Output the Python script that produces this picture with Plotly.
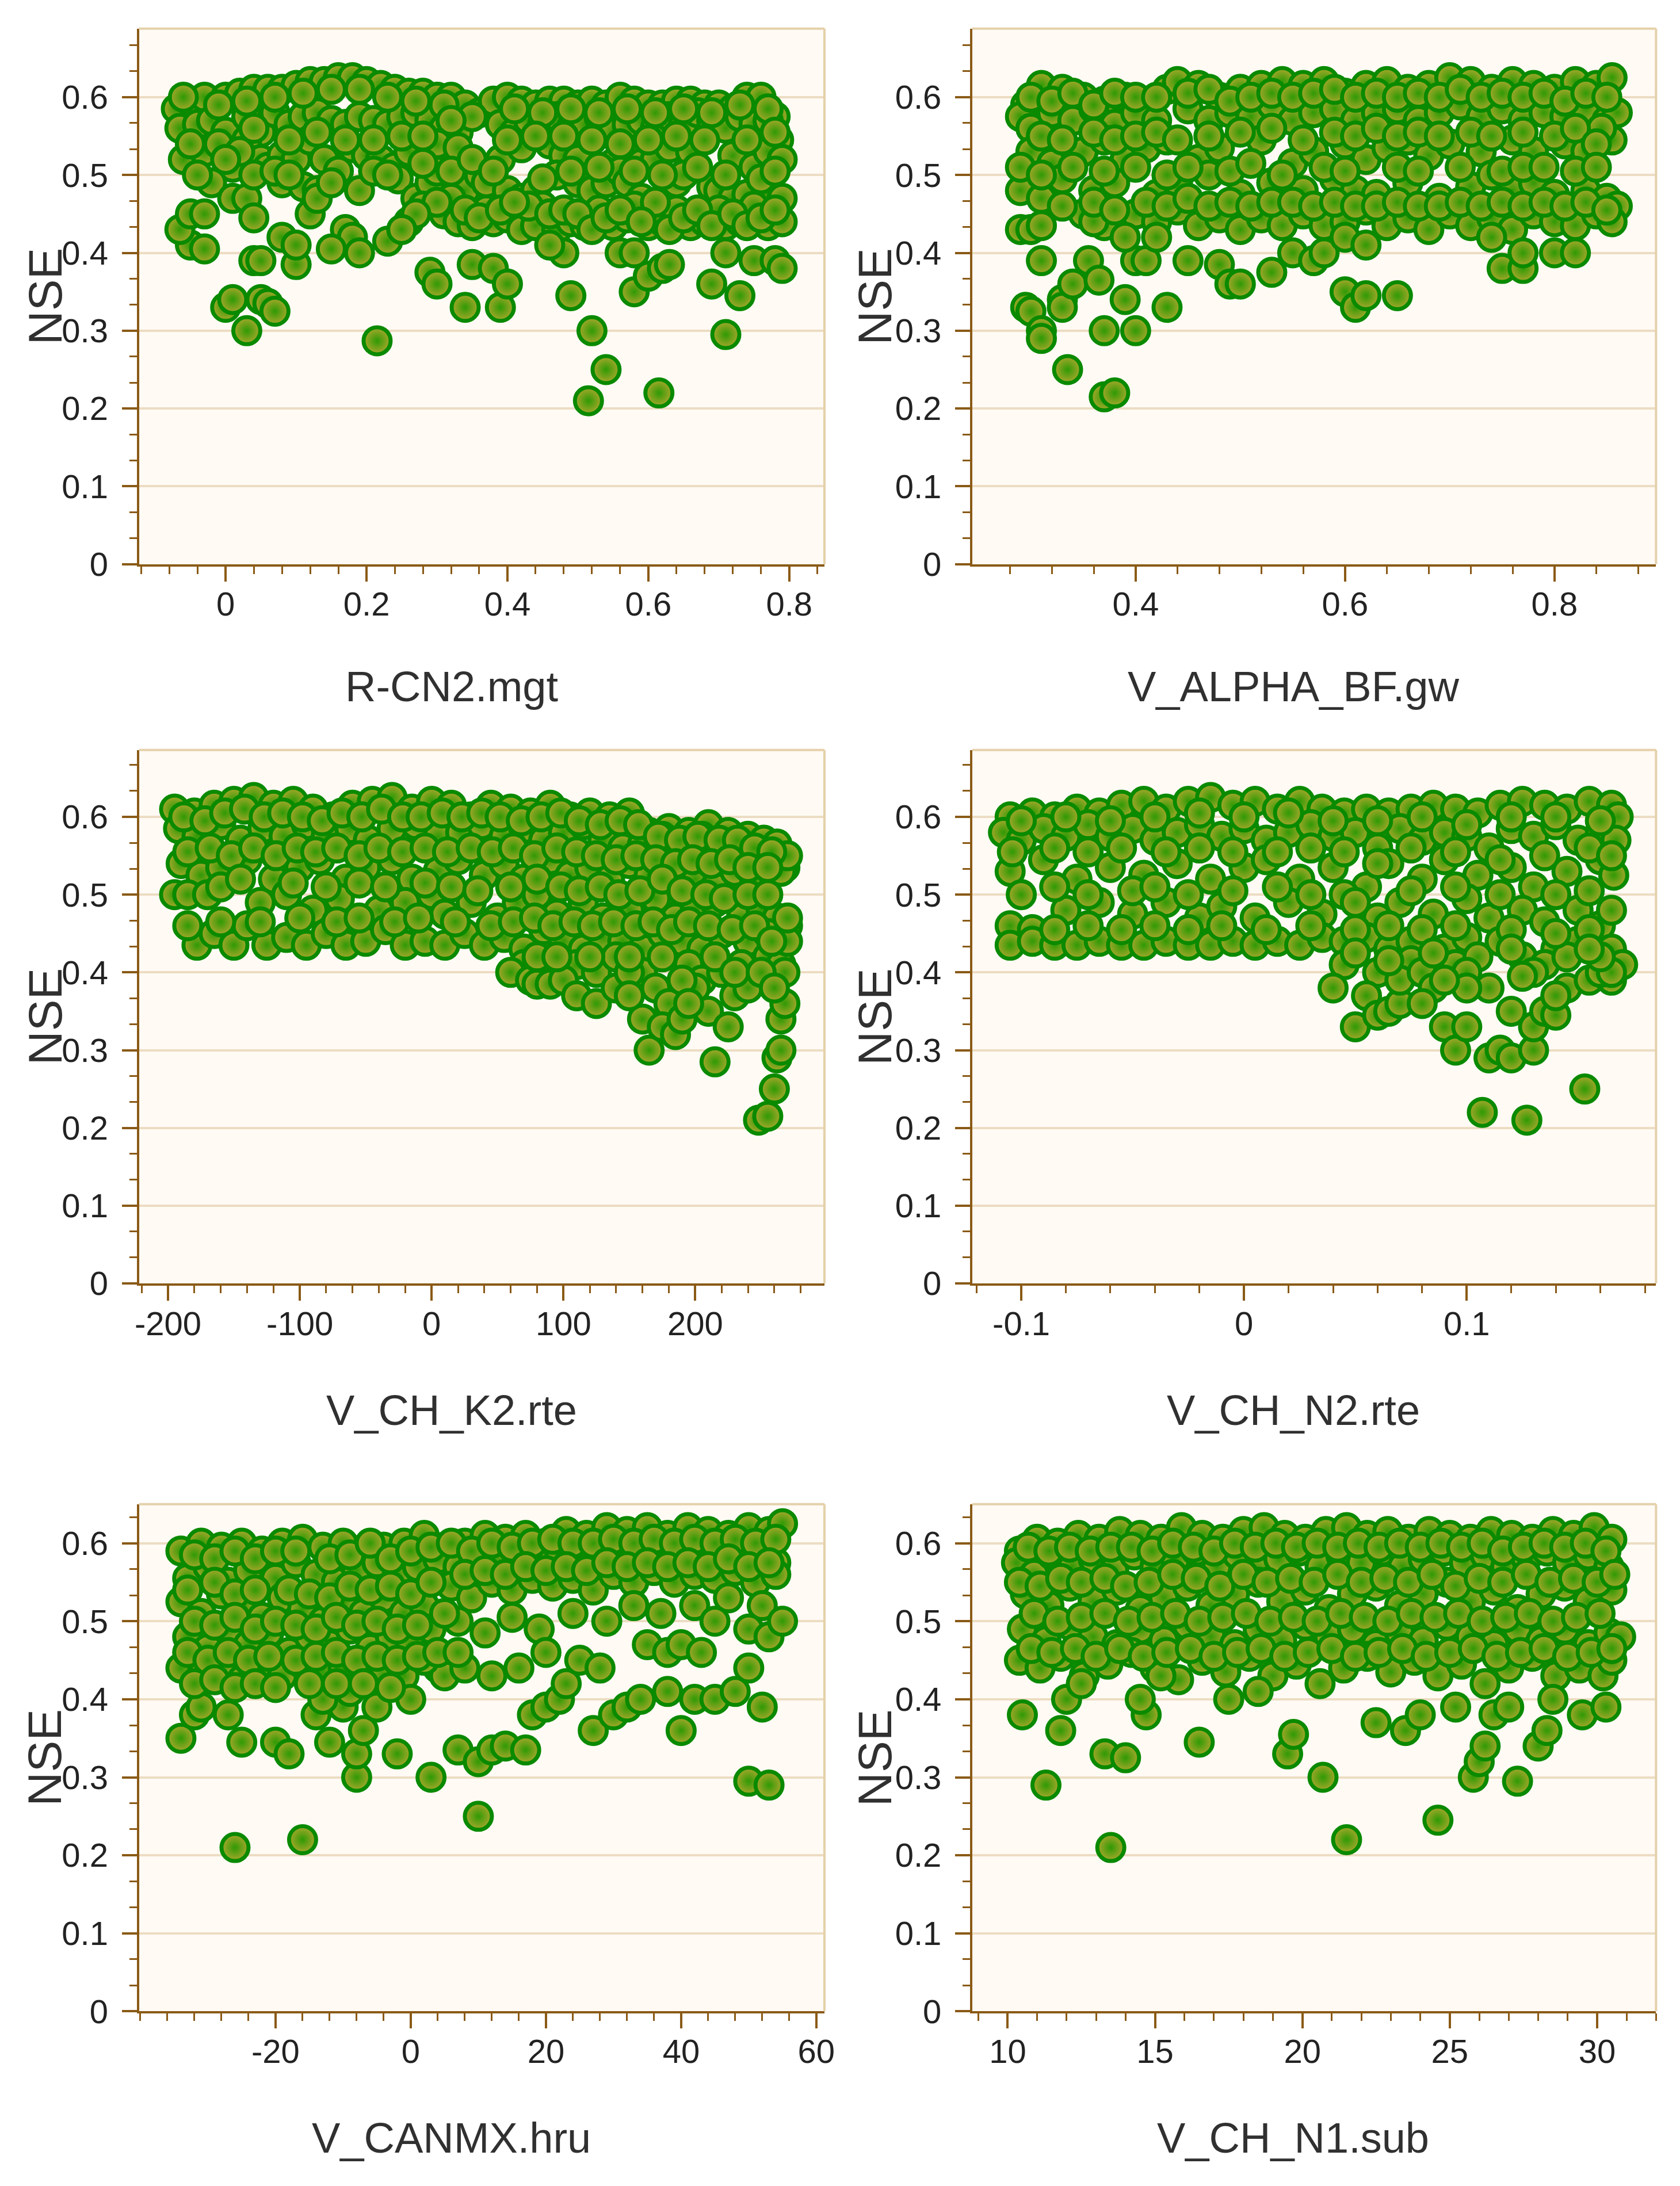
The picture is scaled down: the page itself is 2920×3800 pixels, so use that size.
import plotly.graph_objects as go
from plotly.subplots import make_subplots

# NSE against sampled parameter value, six panels

titles = ["R-CN2.mgt", "V_ALPHA_BF.gw", "V_CH_K2.rte", "V_CH_N2.rte", "V_CANMX.hru", "V_CH_N1.sub"]

cn2_points = [
    # top band
    (-0.07, 0.585), (-0.05, 0.595), (-0.03, 0.60), (0.0, 0.60), (0.02, 0.605), (0.04, 0.61), (0.06, 0.61),
    (0.08, 0.61), (0.10, 0.615), (0.12, 0.62), (0.14, 0.62), (0.16, 0.625), (0.18, 0.625), (0.20, 0.62),
    (0.22, 0.615), (0.24, 0.61), (0.26, 0.605), (0.28, 0.605), (0.30, 0.60), (0.32, 0.60), (0.34, 0.59),
    (0.36, 0.58), (0.38, 0.595), (0.40, 0.60), (0.42, 0.595), (0.44, 0.59), (0.46, 0.595), (0.48, 0.595),
    (0.50, 0.59), (0.52, 0.595), (0.54, 0.59), (0.56, 0.60), (0.58, 0.595), (0.60, 0.59), (0.62, 0.59),
    (0.64, 0.595), (0.66, 0.595), (0.68, 0.59), (0.70, 0.59), (0.72, 0.585), (0.74, 0.60), (0.76, 0.60),
    (0.78, 0.575),
    (-0.065, 0.56), (-0.04, 0.565), (-0.02, 0.57), (0.0, 0.555), (0.03, 0.575), (0.05, 0.555), (0.07, 0.58),
    (0.09, 0.565), (0.11, 0.575), (0.13, 0.58), (0.15, 0.57), (0.17, 0.565), (0.19, 0.575), (0.21, 0.57),
    (0.23, 0.565), (0.25, 0.575), (0.27, 0.58), (0.29, 0.57), (0.31, 0.56), (0.33, 0.555), (0.39, 0.565),
    (0.41, 0.555), (0.43, 0.57), (0.45, 0.565), (0.47, 0.575), (0.49, 0.56), (0.51, 0.565), (0.53, 0.575),
    (0.55, 0.555), (0.57, 0.565), (0.59, 0.57), (0.61, 0.56), (0.63, 0.575), (0.65, 0.565), (0.67, 0.58),
    (0.69, 0.57), (0.71, 0.56), (0.73, 0.575), (0.75, 0.565), (0.77, 0.57), (0.785, 0.545),
    (-0.06, 0.52), (-0.03, 0.53), (-0.01, 0.54), (0.01, 0.51), (0.03, 0.545), (0.05, 0.52), (0.06, 0.51),
    (0.08, 0.525), (0.10, 0.52), (0.12, 0.545), (0.14, 0.52), (0.16, 0.505), (0.18, 0.535), (0.20, 0.525),
    (0.22, 0.52), (0.24, 0.51), (0.26, 0.53), (0.30, 0.54), (0.33, 0.535), (0.39, 0.52), (0.42, 0.535),
    (0.46, 0.54), (0.48, 0.525), (0.50, 0.52), (0.55, 0.515), (0.57, 0.53), (0.59, 0.515), (0.61, 0.52),
    (0.63, 0.535), (0.66, 0.53), (0.72, 0.525), (0.75, 0.51), (0.77, 0.53), (0.79, 0.52),
    (-0.02, 0.49), (0.08, 0.49), (0.11, 0.485), (0.13, 0.48), (0.19, 0.48), (0.245, 0.495), (0.27, 0.47),
    (0.29, 0.49), (0.30, 0.505), (0.34, 0.48), (0.36, 0.50), (0.37, 0.49), (0.40, 0.48), (0.42, 0.47),
    (0.44, 0.48), (0.47, 0.50), (0.50, 0.49), (0.52, 0.48), (0.54, 0.49), (0.56, 0.505), (0.57, 0.49),
    (0.59, 0.47), (0.64, 0.49), (0.65, 0.50), (0.69, 0.485), (0.70, 0.48), (0.72, 0.47), (0.74, 0.475),
    (0.77, 0.475), (0.79, 0.47),
    (0.26, 0.44), (0.28, 0.46), (0.31, 0.45), (0.33, 0.44), (0.35, 0.435), (0.37, 0.455), (0.38, 0.44),
    (0.40, 0.445), (0.42, 0.43), (0.44, 0.435), (0.45, 0.46), (0.47, 0.43), (0.49, 0.44), (0.51, 0.435),
    (0.53, 0.455), (0.55, 0.435), (0.57, 0.445), (0.58, 0.46), (0.60, 0.435), (0.62, 0.44), (0.64, 0.455),
    (0.66, 0.435), (0.68, 0.44), (0.70, 0.455), (0.71, 0.435), (0.73, 0.44), (0.75, 0.46), (0.77, 0.435),
    (0.79, 0.44), (0.32, 0.47), (0.43, 0.46), (0.61, 0.465),
    # scattered lower points
    (0.0, 0.33), (0.01, 0.34), (0.03, 0.30), (0.05, 0.34), (0.06, 0.335), (0.07, 0.325), (0.04, 0.39),
    (0.05, 0.39), (0.08, 0.42), (0.10, 0.385), (0.10, 0.41), (0.215, 0.287), (0.29, 0.375), (0.30, 0.36),
    (0.34, 0.33), (0.35, 0.385), (0.38, 0.38), (0.39, 0.33), (0.40, 0.36), (0.49, 0.345), (0.52, 0.30),
    (0.54, 0.25), (0.515, 0.21), (0.615, 0.22), (0.58, 0.35), (0.60, 0.37), (0.62, 0.38), (0.63, 0.385),
    (0.69, 0.36), (0.71, 0.295), (0.73, 0.345), (0.71, 0.40), (0.75, 0.39), (0.78, 0.39), (0.79, 0.38),
    (-0.05, 0.41), (-0.03, 0.405), (-0.065, 0.43), (-0.05, 0.45), (-0.03, 0.45), (0.01, 0.47), (0.03, 0.47),
    (0.04, 0.445), (0.17, 0.43), (0.18, 0.42), (0.19, 0.40), (0.15, 0.405), (0.23, 0.415), (0.12, 0.45),
    (0.13, 0.47), (0.48, 0.40), (0.46, 0.41), (0.56, 0.40), (0.58, 0.40),
]
cn2_fill = [
    (-0.06, 0.60), (-0.01, 0.59), (0.03, 0.595), (0.07, 0.60), (0.11, 0.605), (0.15, 0.61), (0.19, 0.61),
    (0.23, 0.60), (0.27, 0.595), (0.31, 0.59), (0.35, 0.575), (0.41, 0.585), (0.45, 0.58), (0.49, 0.585),
    (0.53, 0.58), (0.57, 0.585), (0.61, 0.58), (0.65, 0.585), (0.69, 0.58), (0.73, 0.59), (0.77, 0.585),
    (-0.05, 0.54), (0.02, 0.53), (0.04, 0.56), (0.09, 0.545), (0.13, 0.555), (0.17, 0.545), (0.21, 0.545),
    (0.25, 0.55), (0.28, 0.55), (0.32, 0.57), (0.40, 0.545), (0.44, 0.55), (0.48, 0.55), (0.52, 0.545),
    (0.56, 0.54), (0.60, 0.545), (0.64, 0.55), (0.68, 0.545), (0.74, 0.545), (0.78, 0.555),
    (-0.04, 0.50), (0.00, 0.52), (0.04, 0.50), (0.07, 0.505), (0.09, 0.50), (0.15, 0.49), (0.21, 0.505),
    (0.23, 0.50), (0.28, 0.515), (0.32, 0.505), (0.35, 0.52), (0.38, 0.505), (0.45, 0.495), (0.49, 0.505),
    (0.53, 0.51), (0.58, 0.505), (0.62, 0.50), (0.67, 0.51), (0.71, 0.50), (0.76, 0.495), (0.78, 0.505),
    (0.30, 0.465), (0.34, 0.455), (0.36, 0.445), (0.39, 0.455), (0.41, 0.465), (0.46, 0.45), (0.48, 0.455),
    (0.50, 0.45), (0.52, 0.43), (0.54, 0.445), (0.56, 0.455), (0.59, 0.44), (0.63, 0.43), (0.65, 0.445),
    (0.67, 0.455), (0.69, 0.435), (0.72, 0.45), (0.74, 0.435), (0.76, 0.445), (0.78, 0.455), (0.27, 0.45),
    (0.25, 0.43),
]

alpha_points = [
    (0.295, 0.59), (0.31, 0.615), (0.33, 0.61), (0.35, 0.60), (0.37, 0.595), (0.39, 0.60), (0.41, 0.595),
    (0.43, 0.61), (0.44, 0.62), (0.46, 0.615), (0.48, 0.60), (0.50, 0.61), (0.52, 0.615), (0.54, 0.62),
    (0.56, 0.615), (0.58, 0.62), (0.60, 0.605), (0.62, 0.615), (0.64, 0.62), (0.66, 0.61), (0.68, 0.615),
    (0.70, 0.625), (0.72, 0.62), (0.74, 0.61), (0.76, 0.62), (0.78, 0.615), (0.80, 0.61), (0.82, 0.62),
    (0.84, 0.615), (0.855, 0.625),
    (0.29, 0.575), (0.30, 0.56), (0.32, 0.58), (0.34, 0.57), (0.36, 0.585), (0.38, 0.565), (0.40, 0.58),
    (0.42, 0.57), (0.45, 0.585), (0.47, 0.57), (0.49, 0.58), (0.51, 0.575), (0.53, 0.59), (0.55, 0.57),
    (0.57, 0.58), (0.59, 0.585), (0.61, 0.57), (0.63, 0.58), (0.65, 0.585), (0.67, 0.57), (0.69, 0.58),
    (0.71, 0.59), (0.73, 0.575), (0.75, 0.585), (0.77, 0.57), (0.79, 0.58), (0.81, 0.575), (0.83, 0.585),
    (0.85, 0.57), (0.86, 0.58),
    (0.30, 0.53), (0.32, 0.515), (0.35, 0.53), (0.37, 0.545), (0.39, 0.52), (0.41, 0.535), (0.43, 0.545),
    (0.46, 0.52), (0.48, 0.535), (0.52, 0.545), (0.55, 0.515), (0.57, 0.53), (0.60, 0.54), (0.62, 0.52),
    (0.64, 0.535), (0.66, 0.545), (0.68, 0.525), (0.70, 0.54), (0.73, 0.53), (0.76, 0.545), (0.78, 0.53),
    (0.81, 0.54), (0.83, 0.53), (0.855, 0.545), (0.845, 0.56),
    (0.29, 0.48), (0.31, 0.47), (0.33, 0.495), (0.36, 0.48), (0.38, 0.49), (0.42, 0.475), (0.44, 0.49),
    (0.47, 0.50), (0.50, 0.475), (0.53, 0.49), (0.56, 0.48), (0.59, 0.495), (0.61, 0.48), (0.63, 0.475),
    (0.66, 0.49), (0.69, 0.47), (0.72, 0.485), (0.74, 0.50), (0.76, 0.48), (0.78, 0.49), (0.80, 0.475),
    (0.83, 0.48), (0.85, 0.47), (0.86, 0.46),
    (0.35, 0.45), (0.37, 0.435), (0.40, 0.45), (0.42, 0.44), (0.44, 0.455), (0.46, 0.435), (0.48, 0.445),
    (0.50, 0.43), (0.52, 0.445), (0.54, 0.435), (0.56, 0.45), (0.58, 0.435), (0.60, 0.44), (0.62, 0.455),
    (0.64, 0.435), (0.66, 0.445), (0.68, 0.43), (0.70, 0.45), (0.72, 0.435), (0.74, 0.445), (0.76, 0.43),
    (0.78, 0.45), (0.80, 0.44), (0.82, 0.435), (0.84, 0.45), (0.855, 0.44),
    (0.29, 0.43), (0.30, 0.43), (0.31, 0.435), (0.295, 0.33), (0.30, 0.325), (0.31, 0.30), (0.31, 0.29),
    (0.31, 0.39), (0.33, 0.34), (0.33, 0.33), (0.34, 0.36), (0.335, 0.25), (0.355, 0.39), (0.365, 0.365),
    (0.37, 0.30), (0.37, 0.215), (0.38, 0.22), (0.39, 0.34), (0.40, 0.30), (0.40, 0.39), (0.41, 0.39),
    (0.43, 0.33), (0.36, 0.44), (0.39, 0.42), (0.42, 0.42), (0.45, 0.39), (0.48, 0.385), (0.49, 0.36),
    (0.50, 0.36), (0.53, 0.375), (0.55, 0.40), (0.57, 0.39), (0.58, 0.40), (0.60, 0.35), (0.61, 0.33),
    (0.62, 0.345), (0.65, 0.345), (0.60, 0.42), (0.62, 0.41), (0.75, 0.38), (0.77, 0.38), (0.77, 0.40),
    (0.80, 0.40), (0.82, 0.40), (0.74, 0.42),
]
alpha_fill = [
    (0.30, 0.60), (0.32, 0.595), (0.34, 0.605), (0.36, 0.59), (0.38, 0.605), (0.40, 0.60), (0.42, 0.60),
    (0.45, 0.605), (0.47, 0.61), (0.49, 0.595), (0.51, 0.60), (0.53, 0.605), (0.55, 0.60), (0.57, 0.605),
    (0.59, 0.61), (0.61, 0.60), (0.63, 0.605), (0.65, 0.60), (0.67, 0.605), (0.69, 0.60), (0.71, 0.61),
    (0.73, 0.60), (0.75, 0.605), (0.77, 0.60), (0.79, 0.605), (0.81, 0.595), (0.83, 0.605), (0.85, 0.60),
    (0.31, 0.55), (0.33, 0.545), (0.36, 0.555), (0.38, 0.545), (0.40, 0.55), (0.42, 0.555), (0.44, 0.545),
    (0.47, 0.55), (0.50, 0.555), (0.53, 0.56), (0.56, 0.545), (0.59, 0.555), (0.61, 0.55), (0.63, 0.56),
    (0.65, 0.55), (0.67, 0.555), (0.69, 0.55), (0.72, 0.555), (0.74, 0.55), (0.77, 0.555), (0.80, 0.55),
    (0.82, 0.56), (0.84, 0.54),
    (0.29, 0.51), (0.31, 0.50), (0.34, 0.51), (0.37, 0.505), (0.40, 0.51), (0.43, 0.50), (0.45, 0.51),
    (0.49, 0.505), (0.51, 0.515), (0.54, 0.50), (0.58, 0.51), (0.60, 0.505), (0.65, 0.51), (0.67, 0.505),
    (0.71, 0.51), (0.75, 0.505), (0.77, 0.51), (0.79, 0.51), (0.82, 0.505), (0.84, 0.51),
    (0.33, 0.46), (0.36, 0.465), (0.38, 0.455), (0.41, 0.465), (0.43, 0.46), (0.45, 0.47), (0.47, 0.46),
    (0.49, 0.465), (0.51, 0.46), (0.53, 0.465), (0.55, 0.465), (0.57, 0.46), (0.59, 0.465), (0.61, 0.46),
    (0.63, 0.46), (0.65, 0.465), (0.67, 0.46), (0.69, 0.46), (0.71, 0.465), (0.73, 0.46), (0.75, 0.465),
    (0.77, 0.46), (0.79, 0.465), (0.81, 0.46), (0.83, 0.465), (0.85, 0.455),
]

k2_points = [
    (-195, 0.61), (-180, 0.605), (-165, 0.615), (-150, 0.62), (-135, 0.625), (-120, 0.615), (-105, 0.62),
    (-90, 0.61), (-75, 0.60), (-60, 0.615), (-45, 0.62), (-30, 0.625), (-15, 0.61), (0, 0.62), (15, 0.615),
    (30, 0.60), (45, 0.615), (60, 0.61), (75, 0.605), (90, 0.615), (105, 0.60), (120, 0.605), (135, 0.60),
    (150, 0.605), (165, 0.58), (180, 0.585), (195, 0.58), (210, 0.59), (225, 0.58), (240, 0.575),
    (252, 0.57), (262, 0.565),
    (-192, 0.585), (-178, 0.575), (-160, 0.59), (-145, 0.57), (-128, 0.585), (-112, 0.575), (-95, 0.59),
    (-80, 0.575), (-62, 0.585), (-48, 0.57), (-30, 0.585), (-12, 0.59), (5, 0.575), (22, 0.58), (38, 0.59),
    (55, 0.575), (70, 0.585), (85, 0.57), (100, 0.58), (115, 0.59), (130, 0.57), (145, 0.56), (160, 0.565),
    (175, 0.575), (190, 0.56), (205, 0.575), (220, 0.56), (235, 0.565), (250, 0.55), (265, 0.545),
    (-190, 0.54), (-175, 0.525), (-160, 0.535), (-140, 0.545), (-120, 0.52), (-100, 0.535), (-85, 0.545),
    (-65, 0.52), (-50, 0.535), (-30, 0.545), (-15, 0.52), (5, 0.53), (20, 0.545), (40, 0.525), (55, 0.54),
    (70, 0.52), (90, 0.545), (105, 0.525), (120, 0.535), (135, 0.52), (150, 0.54), (165, 0.525),
    (180, 0.505), (200, 0.52), (215, 0.51), (230, 0.53), (245, 0.515), (258, 0.53), (268, 0.535),
    (-195, 0.50), (-185, 0.50), (-170, 0.50), (-130, 0.49), (-110, 0.50), (-90, 0.48), (-70, 0.495),
    (-40, 0.48), (-20, 0.49), (0, 0.50), (10, 0.475), (30, 0.49), (50, 0.47), (65, 0.49), (80, 0.50),
    (95, 0.475), (115, 0.49), (130, 0.47), (150, 0.48), (170, 0.495), (185, 0.47), (200, 0.48), (215, 0.49),
    (235, 0.47), (250, 0.48), (262, 0.47), (270, 0.46),
    (-178, 0.435), (-165, 0.45), (-150, 0.435), (-140, 0.46), (-125, 0.435), (-110, 0.445), (-95, 0.435),
    (-80, 0.45), (-65, 0.435), (-50, 0.44), (-35, 0.455), (-20, 0.435), (-5, 0.44), (10, 0.435), (25, 0.45),
    (40, 0.435), (55, 0.445), (70, 0.43), (85, 0.455), (100, 0.44), (115, 0.43), (130, 0.445), (145, 0.44),
    (160, 0.43), (175, 0.45), (190, 0.44), (205, 0.43), (220, 0.45), (240, 0.44), (255, 0.45),
    (70, 0.41), (85, 0.40), (110, 0.41), (125, 0.40), (140, 0.42), (160, 0.40), (170, 0.38), (180, 0.36),
    (195, 0.41), (205, 0.39), (220, 0.40), (235, 0.41), (245, 0.39), (255, 0.42), (265, 0.41),
    (60, 0.40), (75, 0.39), (80, 0.385), (90, 0.385), (100, 0.39), (110, 0.37), (125, 0.36), (140, 0.38),
    (150, 0.40), (160, 0.34), (165, 0.30), (175, 0.33), (185, 0.32), (190, 0.34), (200, 0.38), (210, 0.35),
    (215, 0.285), (225, 0.33), (230, 0.37), (240, 0.38), (248, 0.21), (255, 0.215), (260, 0.25),
    (262, 0.29), (265, 0.30), (265, 0.34), (268, 0.36), (268, 0.40), (270, 0.44), (270, 0.47),
    (265, 0.53), (270, 0.55),
]
k2_fill = [
    (-188, 0.60), (-172, 0.595), (-157, 0.605), (-142, 0.61), (-127, 0.60), (-113, 0.605), (-98, 0.60),
    (-83, 0.595), (-68, 0.605), (-53, 0.60), (-38, 0.61), (-22, 0.60), (-8, 0.60), (8, 0.605), (23, 0.60),
    (38, 0.605), (52, 0.60), (68, 0.595), (83, 0.60), (98, 0.605), (112, 0.595), (128, 0.59), (143, 0.595),
    (157, 0.59), (172, 0.575), (188, 0.57), (202, 0.575), (218, 0.57), (232, 0.57), (245, 0.56), (258, 0.555),
    (-185, 0.555), (-168, 0.56), (-152, 0.55), (-135, 0.56), (-118, 0.55), (-102, 0.56), (-88, 0.555),
    (-72, 0.56), (-55, 0.55), (-40, 0.56), (-22, 0.555), (-5, 0.56), (12, 0.555), (30, 0.56), (46, 0.555),
    (62, 0.56), (78, 0.55), (95, 0.56), (110, 0.555), (125, 0.55), (140, 0.545), (155, 0.55), (170, 0.545),
    (185, 0.54), (198, 0.545), (212, 0.54), (226, 0.545), (240, 0.535), (255, 0.535),
    (-160, 0.51), (-145, 0.52), (-105, 0.515), (-80, 0.51), (-55, 0.515), (-35, 0.51), (-5, 0.515),
    (15, 0.51), (35, 0.505), (60, 0.51), (80, 0.52), (98, 0.51), (112, 0.505), (128, 0.51), (142, 0.50),
    (158, 0.505), (175, 0.52), (190, 0.505), (208, 0.50), (222, 0.495), (240, 0.50), (255, 0.50),
    (-185, 0.46), (-160, 0.465), (-130, 0.465), (-100, 0.47), (-72, 0.465), (-55, 0.47), (-28, 0.465),
    (-10, 0.47), (18, 0.465), (45, 0.46), (62, 0.465), (78, 0.47), (92, 0.46), (108, 0.465), (122, 0.46),
    (138, 0.465), (155, 0.46), (168, 0.465), (182, 0.455), (195, 0.465), (210, 0.46), (228, 0.455),
    (245, 0.46), (258, 0.44),
    (80, 0.42), (95, 0.42), (120, 0.42), (150, 0.42), (175, 0.42), (190, 0.39), (215, 0.42), (230, 0.40),
    (250, 0.40), (260, 0.38), (150, 0.37), (195, 0.36),
]

n2_points = [
    (-0.105, 0.60), (-0.095, 0.605), (-0.085, 0.60), (-0.075, 0.61), (-0.065, 0.605), (-0.055, 0.615),
    (-0.045, 0.62), (-0.035, 0.61), (-0.025, 0.62), (-0.015, 0.625), (-0.005, 0.615), (0.005, 0.62),
    (0.015, 0.61), (0.025, 0.62), (0.035, 0.61), (0.045, 0.605), (0.055, 0.61), (0.065, 0.605),
    (0.075, 0.61), (0.085, 0.615), (0.095, 0.61), (0.105, 0.605), (0.115, 0.615), (0.125, 0.62),
    (0.135, 0.615), (0.145, 0.61), (0.155, 0.62), (0.165, 0.615), (0.168, 0.60),
    (-0.108, 0.58), (-0.10, 0.57), (-0.09, 0.585), (-0.08, 0.575), (-0.07, 0.59), (-0.06, 0.575),
    (-0.05, 0.585), (-0.04, 0.57), (-0.03, 0.58), (-0.02, 0.59), (-0.01, 0.575), (0.0, 0.585),
    (0.01, 0.57), (0.02, 0.58), (0.03, 0.59), (0.04, 0.575), (0.05, 0.58), (0.06, 0.56), (0.07, 0.585),
    (0.08, 0.57), (0.09, 0.58), (0.10, 0.575), (0.11, 0.56), (0.12, 0.585), (0.13, 0.575), (0.14, 0.59),
    (0.15, 0.57), (0.16, 0.58), (0.167, 0.57),
    (-0.105, 0.53), (-0.09, 0.545), (-0.075, 0.52), (-0.06, 0.535), (-0.045, 0.525), (-0.03, 0.54),
    (-0.015, 0.52), (0.0, 0.535), (0.01, 0.545), (0.025, 0.52), (0.04, 0.535), (0.055, 0.51),
    (0.065, 0.54), (0.08, 0.52), (0.09, 0.545), (0.105, 0.525), (0.12, 0.535), (0.13, 0.51),
    (0.145, 0.53), (0.16, 0.545), (0.166, 0.525),
    (-0.105, 0.46), (-0.095, 0.455), (-0.08, 0.48), (-0.065, 0.49), (-0.05, 0.475), (-0.035, 0.49),
    (-0.02, 0.47), (-0.01, 0.485), (0.005, 0.47), (0.02, 0.49), (0.035, 0.475), (0.045, 0.50),
    (0.06, 0.47), (0.07, 0.49), (0.085, 0.475), (0.10, 0.495), (0.11, 0.47), (0.125, 0.48),
    (0.135, 0.465), (0.15, 0.48), (0.16, 0.46), (0.165, 0.48),
    (-0.105, 0.435), (-0.095, 0.44), (-0.085, 0.435), (-0.075, 0.435), (-0.065, 0.44), (-0.055, 0.435),
    (-0.045, 0.435), (-0.035, 0.44), (-0.025, 0.435), (-0.015, 0.435), (-0.005, 0.44), (0.005, 0.435),
    (0.015, 0.44), (0.025, 0.435), (0.035, 0.445), (0.045, 0.44), (0.055, 0.445), (0.065, 0.43),
    (0.075, 0.44), (0.09, 0.43), (0.10, 0.445), (0.115, 0.44), (0.125, 0.42), (0.14, 0.43),
    (0.15, 0.44), (0.165, 0.43),
    (0.045, 0.41), (0.06, 0.40), (0.075, 0.415), (0.095, 0.41), (0.105, 0.42), (0.135, 0.41),
    (0.145, 0.42), (0.165, 0.39), (0.17, 0.41),
    (0.04, 0.38), (0.05, 0.33), (0.055, 0.37), (0.06, 0.345), (0.065, 0.35), (0.07, 0.36), (0.07, 0.39),
    (0.08, 0.40), (0.085, 0.38), (0.09, 0.33), (0.095, 0.30), (0.10, 0.33), (0.107, 0.22), (0.11, 0.29),
    (0.115, 0.30), (0.12, 0.29), (0.127, 0.21), (0.13, 0.30), (0.13, 0.33), (0.135, 0.35), (0.14, 0.345),
    (0.145, 0.38), (0.153, 0.25), (0.155, 0.39), (0.16, 0.40), (0.165, 0.40), (0.16, 0.42), (0.12, 0.35),
    (0.11, 0.38), (0.10, 0.40), (0.13, 0.40),
]
n2_fill = [
    (-0.10, 0.595), (-0.08, 0.60), (-0.06, 0.595), (-0.04, 0.60), (-0.02, 0.605), (0.0, 0.60),
    (0.02, 0.605), (0.04, 0.595), (0.06, 0.595), (0.08, 0.60), (0.10, 0.59), (0.12, 0.60), (0.14, 0.60),
    (0.16, 0.595),
    (-0.104, 0.555), (-0.085, 0.56), (-0.07, 0.555), (-0.055, 0.56), (-0.035, 0.555), (-0.02, 0.56),
    (-0.005, 0.555), (0.015, 0.555), (0.03, 0.56), (0.045, 0.555), (0.06, 0.54), (0.075, 0.56),
    (0.095, 0.555), (0.115, 0.545), (0.135, 0.55), (0.155, 0.56), (0.165, 0.55),
    (-0.10, 0.50), (-0.085, 0.51), (-0.07, 0.50), (-0.05, 0.505), (-0.04, 0.51), (-0.025, 0.50),
    (-0.005, 0.505), (0.015, 0.51), (0.03, 0.50), (0.05, 0.49), (0.075, 0.505), (0.095, 0.51),
    (0.115, 0.50), (0.14, 0.50), (0.155, 0.505),
    (-0.085, 0.455), (-0.07, 0.46), (-0.055, 0.455), (-0.04, 0.46), (-0.025, 0.455), (-0.01, 0.46),
    (0.01, 0.455), (0.03, 0.46), (0.05, 0.455), (0.065, 0.46), (0.08, 0.455), (0.095, 0.46),
    (0.12, 0.455), (0.14, 0.45), (0.155, 0.455),
    (0.05, 0.425), (0.065, 0.415), (0.085, 0.425), (0.10, 0.38), (0.12, 0.43), (0.125, 0.395),
    (0.14, 0.37), (0.155, 0.43), (0.08, 0.36), (0.09, 0.39),
]

canmx_points = [
    (-34, 0.59), (-31, 0.60), (-28, 0.595), (-25, 0.60), (-22, 0.59), (-19, 0.60), (-16, 0.605),
    (-13, 0.595), (-10, 0.60), (-7, 0.585), (-4, 0.595), (-1, 0.60), (2, 0.61), (5, 0.595), (8, 0.60),
    (11, 0.61), (14, 0.605), (17, 0.61), (20, 0.60), (23, 0.615), (26, 0.61), (29, 0.62), (32, 0.615),
    (35, 0.62), (38, 0.61), (41, 0.62), (44, 0.615), (47, 0.61), (50, 0.62), (53, 0.615), (55, 0.625),
    (-33, 0.555), (-30, 0.57), (-27, 0.55), (-24, 0.565), (-20, 0.555), (-17, 0.575), (-14, 0.56),
    (-11, 0.55), (-8, 0.565), (-5, 0.575), (-2, 0.56), (1, 0.57), (4, 0.58), (7, 0.57), (10, 0.585),
    (13, 0.575), (16, 0.585), (19, 0.575), (22, 0.59), (25, 0.58), (28, 0.59), (31, 0.585), (34, 0.59),
    (37, 0.58), (40, 0.59), (43, 0.585), (46, 0.595), (49, 0.58), (52, 0.59), (54, 0.575),
    (-34, 0.525), (-31, 0.51), (-28, 0.535), (-25, 0.52), (-22, 0.505), (-19, 0.53), (-16, 0.515),
    (-13, 0.50), (-10, 0.525), (-7, 0.51), (-4, 0.53), (-1, 0.51), (2, 0.52), (6, 0.545), (9, 0.53),
    (12, 0.55), (15, 0.54), (18, 0.555), (21, 0.545), (24, 0.555), (27, 0.54), (30, 0.56), (33, 0.55),
    (36, 0.565), (39, 0.55), (42, 0.56), (45, 0.555), (48, 0.565), (51, 0.55), (54, 0.56),
    (-33, 0.48), (-30, 0.465), (-27, 0.49), (-24, 0.47), (-21, 0.485), (-18, 0.46), (-15, 0.48),
    (-12, 0.47), (-9, 0.49), (-6, 0.465), (-3, 0.48), (0, 0.47), (3, 0.49), (7, 0.50), (11, 0.485),
    (15, 0.505), (19, 0.49), (24, 0.51), (29, 0.50), (33, 0.52), (37, 0.51), (42, 0.52), (47, 0.53),
    (52, 0.52),
    (-34, 0.44), (-31, 0.43), (-28, 0.445), (-25, 0.425), (-22, 0.44), (-19, 0.43), (-16, 0.445),
    (-13, 0.435), (-10, 0.44), (-7, 0.43), (-4, 0.445), (-1, 0.43), (4, 0.44),
    (-26, 0.21), (-16, 0.22), (10, 0.25), (50, 0.295), (53, 0.29), (-34, 0.35), (-32, 0.38), (-31, 0.39),
    (-27, 0.38), (-25, 0.345), (-20, 0.345), (-18, 0.33), (-14, 0.38), (-12, 0.345), (-10, 0.39),
    (-8, 0.30), (-8, 0.33), (-7, 0.36), (-5, 0.39), (-2, 0.33), (0, 0.40), (3, 0.30), (5, 0.43),
    (7, 0.335), (10, 0.32), (12, 0.335), (14, 0.34), (17, 0.335), (18, 0.38), (20, 0.39), (22, 0.40),
    (23, 0.42), (27, 0.36), (30, 0.38), (32, 0.39), (34, 0.40), (38, 0.41), (40, 0.36), (42, 0.40),
    (45, 0.40), (48, 0.41), (50, 0.44), (52, 0.39), (-13, 0.40), (-9, 0.41), (-4, 0.43), (2, 0.45),
    (8, 0.44), (12, 0.43), (16, 0.44), (20, 0.46), (25, 0.45), (28, 0.44), (35, 0.47), (38, 0.46),
    (40, 0.47), (43, 0.46), (45, 0.50), (50, 0.49), (53, 0.48), (55, 0.50),
]
canmx_fill = [
    (-32, 0.585), (-29, 0.58), (-26, 0.59), (-23, 0.58), (-20, 0.59), (-17, 0.59), (-12, 0.58), (-9, 0.585),
    (-6, 0.60), (-3, 0.58), (0, 0.59), (3, 0.595), (6, 0.60), (9, 0.59), (12, 0.60), (15, 0.595), (18, 0.60),
    (21, 0.605), (24, 0.60), (27, 0.60), (30, 0.605), (33, 0.60), (36, 0.605), (39, 0.60), (42, 0.605),
    (45, 0.60), (48, 0.605), (51, 0.60), (54, 0.605),
    (-33, 0.54), (-29, 0.55), (-26, 0.535), (-23, 0.54), (-18, 0.54), (-15, 0.535), (-12, 0.53), (-9, 0.545),
    (-6, 0.54), (-3, 0.545), (0, 0.535), (3, 0.55), (8, 0.56), (11, 0.565), (14, 0.56), (17, 0.57),
    (20, 0.565), (23, 0.57), (26, 0.565), (29, 0.575), (32, 0.57), (35, 0.575), (38, 0.57), (41, 0.575),
    (44, 0.57), (47, 0.58), (50, 0.57), (53, 0.575),
    (-32, 0.50), (-29, 0.495), (-26, 0.505), (-23, 0.49), (-20, 0.50), (-17, 0.495), (-14, 0.49),
    (-11, 0.505), (-8, 0.495), (-5, 0.50), (-2, 0.49), (1, 0.495), (5, 0.51),
    (-33, 0.46), (-30, 0.45), (-27, 0.46), (-24, 0.45), (-21, 0.455), (-17, 0.45), (-14, 0.455),
    (-11, 0.46), (-8, 0.45), (-5, 0.455), (-2, 0.45), (1, 0.455), (4, 0.46), (7, 0.46),
    (-32, 0.42), (-29, 0.425), (-26, 0.415), (-23, 0.42), (-20, 0.415), (-15, 0.42), (-11, 0.42),
    (-7, 0.42), (-3, 0.415),
]

n1_points = [
    (10.4, 0.59), (11.0, 0.605), (11.7, 0.60), (12.4, 0.61), (13.1, 0.605), (13.8, 0.615), (14.5, 0.61),
    (15.2, 0.605), (15.9, 0.62), (16.6, 0.61), (17.3, 0.605), (18.0, 0.615), (18.7, 0.62), (19.4, 0.61),
    (20.1, 0.605), (20.8, 0.615), (21.5, 0.62), (22.2, 0.61), (22.9, 0.615), (23.6, 0.605), (24.3, 0.615),
    (25.0, 0.61), (25.7, 0.605), (26.4, 0.615), (27.1, 0.61), (27.8, 0.605), (28.5, 0.615), (29.2, 0.61),
    (29.9, 0.62), (30.5, 0.605),
    (10.3, 0.575), (10.9, 0.56), (11.5, 0.585), (12.2, 0.57), (12.9, 0.58), (13.6, 0.565), (14.3, 0.585),
    (15.0, 0.57), (15.7, 0.58), (16.4, 0.59), (17.1, 0.57), (17.8, 0.585), (18.5, 0.565), (19.2, 0.58),
    (19.9, 0.59), (20.6, 0.57), (21.3, 0.585), (22.0, 0.575), (22.7, 0.59), (23.4, 0.57), (24.1, 0.58),
    (24.8, 0.59), (25.5, 0.575), (26.2, 0.585), (26.9, 0.57), (27.6, 0.58), (28.3, 0.59), (29.0, 0.575),
    (29.7, 0.585), (30.4, 0.57),
    (10.6, 0.535), (11.4, 0.52), (12.1, 0.545), (12.9, 0.525), (13.7, 0.54), (14.5, 0.515), (15.3, 0.53),
    (16.1, 0.545), (16.9, 0.52), (17.7, 0.535), (18.5, 0.55), (19.3, 0.525), (20.1, 0.54), (20.9, 0.515),
    (21.7, 0.535), (22.5, 0.545), (23.3, 0.52), (24.1, 0.535), (24.9, 0.55), (25.7, 0.525), (26.5, 0.54),
    (27.3, 0.515), (28.1, 0.535), (28.9, 0.545), (29.7, 0.525), (30.5, 0.54),
    (10.5, 0.49), (11.3, 0.475), (12.1, 0.495), (12.9, 0.48), (13.7, 0.47), (14.5, 0.49), (15.3, 0.475),
    (16.1, 0.495), (16.9, 0.48), (17.7, 0.47), (18.5, 0.49), (19.3, 0.475), (20.1, 0.495), (20.9, 0.48),
    (21.7, 0.49), (22.5, 0.47), (23.3, 0.485), (24.1, 0.475), (24.9, 0.495), (25.7, 0.48), (26.5, 0.47),
    (27.3, 0.49), (28.1, 0.475), (28.9, 0.49), (29.7, 0.47), (30.4, 0.485),
    (10.4, 0.45), (11.1, 0.44), (11.8, 0.455), (12.6, 0.43), (13.4, 0.445), (14.2, 0.46), (15.0, 0.44),
    (15.8, 0.425), (16.6, 0.45), (17.4, 0.435), (18.2, 0.455), (19.0, 0.43), (19.8, 0.445), (20.6, 0.42),
    (21.4, 0.44), (22.2, 0.455), (23.0, 0.435), (23.8, 0.45), (24.6, 0.43), (25.4, 0.445), (26.2, 0.42),
    (27.0, 0.44), (27.8, 0.455), (28.6, 0.43), (29.4, 0.44), (30.2, 0.43),
    (11.3, 0.29), (11.8, 0.36), (13.3, 0.33), (14.0, 0.325), (13.5, 0.21), (10.5, 0.38), (12.0, 0.40),
    (16.5, 0.345), (19.5, 0.33), (19.7, 0.355), (20.7, 0.30), (21.5, 0.22), (24.6, 0.245), (25.8, 0.30),
    (26.0, 0.32), (26.2, 0.34), (27.3, 0.295), (28.0, 0.34), (28.3, 0.36), (22.5, 0.37), (23.5, 0.36),
    (24.0, 0.38), (25.2, 0.39), (26.5, 0.38), (27.0, 0.39), (28.5, 0.40), (29.5, 0.38), (30.3, 0.39),
    (30.5, 0.45), (30.8, 0.48), (17.5, 0.40), (18.5, 0.41), (14.7, 0.38), (14.5, 0.40), (12.5, 0.42),
    (15.2, 0.43),
]
n1_fill = [
    (10.7, 0.595), (11.4, 0.59), (12.1, 0.595), (12.8, 0.59), (13.5, 0.595), (14.2, 0.595), (14.9, 0.59),
    (15.6, 0.60), (16.3, 0.595), (17.0, 0.59), (17.7, 0.60), (18.4, 0.595), (19.1, 0.60), (19.8, 0.595),
    (20.5, 0.60), (21.2, 0.595), (21.9, 0.60), (22.6, 0.595), (23.3, 0.60), (24.0, 0.595), (24.7, 0.60),
    (25.4, 0.595), (26.1, 0.60), (26.8, 0.59), (27.5, 0.595), (28.2, 0.60), (28.9, 0.595), (29.6, 0.60),
    (30.3, 0.59),
    (10.4, 0.55), (11.1, 0.545), (11.8, 0.555), (12.5, 0.55), (13.3, 0.555), (14.0, 0.545), (14.8, 0.55),
    (15.6, 0.56), (16.4, 0.555), (17.2, 0.545), (18.0, 0.56), (18.8, 0.55), (19.6, 0.555), (20.4, 0.55),
    (21.2, 0.56), (22.0, 0.55), (22.8, 0.555), (23.6, 0.55), (24.4, 0.56), (25.2, 0.545), (26.0, 0.555),
    (26.8, 0.55), (27.6, 0.56), (28.4, 0.55), (29.2, 0.555), (30.0, 0.55), (30.6, 0.56),
    (10.9, 0.51), (11.7, 0.50), (12.5, 0.505), (13.3, 0.51), (14.1, 0.50), (14.9, 0.505), (15.7, 0.51),
    (16.5, 0.50), (17.3, 0.505), (18.1, 0.51), (18.9, 0.50), (19.7, 0.505), (20.5, 0.50), (21.3, 0.51),
    (22.1, 0.505), (22.9, 0.50), (23.7, 0.51), (24.5, 0.505), (25.3, 0.51), (26.1, 0.50), (26.9, 0.505),
    (27.7, 0.51), (28.5, 0.50), (29.3, 0.505), (30.1, 0.51),
    (10.8, 0.465), (11.5, 0.46), (12.3, 0.465), (13.0, 0.455), (13.8, 0.465), (14.6, 0.455), (15.4, 0.46),
    (16.2, 0.465), (17.0, 0.455), (17.8, 0.46), (18.6, 0.465), (19.4, 0.455), (20.2, 0.46), (21.0, 0.465),
    (21.8, 0.455), (22.6, 0.46), (23.4, 0.465), (24.2, 0.455), (25.0, 0.46), (25.8, 0.465), (26.6, 0.455),
    (27.4, 0.46), (28.2, 0.465), (29.0, 0.455), (29.8, 0.46), (30.5, 0.465),
]

panels = [cn2_points + cn2_fill, alpha_points + alpha_fill, k2_points + k2_fill,
          n2_points + n2_fill, canmx_points + canmx_fill, n1_points + n1_fill]

x_ranges = [[-0.123, 0.85], [0.244, 0.897], [-222, 298], [-0.122, 0.185], [-40.2, 61.2], [8.8, 32.0]]
x_tickvals = [
    [0, 0.2, 0.4, 0.6, 0.8],
    [0.4, 0.6, 0.8],
    [-200, -100, 0, 100, 200],
    [-0.1, 0, 0.1],
    [-20, 0, 20, 40, 60],
    [10, 15, 20, 25, 30],
]
x_ticktext = [
    ["0", "0.2", "0.4", "0.6", "0.8"],
    ["0.4", "0.6", "0.8"],
    ["-200", "-100", "0", "100", "200"],
    ["-0.1", "0", "0.1"],
    ["-20", "0", "20", "40", "60"],
    ["10", "15", "20", "25", "30"],
]
x_minor = [0.04, 0.04, 20, 0.02, 4, 1]
y_tops = [0.688, 0.688, 0.686, 0.686, 0.65, 0.65]

col_domains = [[0.080, 0.488], [0.576, 0.983]]
row_domains = [[0.744, 0.989], [0.415, 0.659], [0.082, 0.314]]
xtitle_x = [0.266, 0.767]
xtitle_y = [0.688, 0.357, 0.024]
nse_x = [0.024, 0.518]

axis_col = "#8a5a16"
border_col = "#e5d1aa"
grid_col = "#ecdcc2"
tick_font = dict(family="Liberation Sans Narrow, Liberation Sans, Arial", size=58, color="#222222")

fig = make_subplots(rows=3, cols=2)

for i, pts in enumerate(panels):
    r, c = i // 2, i % 2
    xs = [p[0] for p in pts]
    ys = [p[1] for p in pts]
    fig.add_trace(go.Scatter(
        x=xs, y=ys, mode="markers",
        marker=dict(size=47, color="#aaa82c",
                    gradient=dict(type="radial", color="#2f9a05"),
                    line=dict(color="#0a8a00", width=7)),
        hoverinfo="skip", showlegend=False
    ), row=r + 1, col=c + 1)

    n = "" if i == 0 else str(i + 1)
    fig.layout["xaxis" + n].update(
        domain=col_domains[c], range=x_ranges[i], automargin=False,
        tickmode="array", tickvals=x_tickvals[i], ticktext=x_ticktext[i],
        showgrid=False, zeroline=False, showline=True, linecolor=axis_col, linewidth=4,
        ticks="outside", ticklen=26, tickwidth=4, tickcolor=axis_col, tickfont=tick_font,
        ticklabelstandoff=-10,
        minor=dict(dtick=x_minor[i], tick0=0, ticks="outside", ticklen=13, tickwidth=3,
                   tickcolor=axis_col, showgrid=False),
    )
    fig.layout["yaxis" + n].update(
        domain=row_domains[r], range=[0, y_tops[i]], dtick=0.1, tick0=0, automargin=False,
        showgrid=True, gridcolor=grid_col, gridwidth=4, zeroline=False,
        showline=True, linecolor=axis_col, linewidth=4,
        ticks="outside", ticklen=26, tickwidth=4, tickcolor=axis_col, tickfont=tick_font,
        ticklabelstandoff=12,
        minor=dict(dtick=0.1 / 3, tick0=0, ticks="outside", ticklen=13, tickwidth=3,
                   tickcolor=axis_col, showgrid=False),
    )
    xref = "x" + n + " domain"
    yref = "y" + n + " domain"
    fig.add_shape(type="line", xref=xref, yref=yref, x0=0, x1=1, y0=1, y1=1,
                  line=dict(color=border_col, width=4))
    fig.add_shape(type="line", xref=xref, yref=yref, x0=1, x1=1, y0=0, y1=1,
                  line=dict(color=border_col, width=4))

    fig.add_annotation(text=titles[i], xref="paper", yref="paper", x=xtitle_x[c], y=xtitle_y[r],
                       xanchor="center", yanchor="middle", showarrow=False,
                       font=dict(family="Liberation Sans, Arial", size=74, color="#303030"))
    fig.add_annotation(text="NSE", xref="paper", yref="paper", x=nse_x[c],
                       y=sum(row_domains[r]) / 2, xanchor="center", yanchor="middle",
                       textangle=-90, showarrow=False,
                       font=dict(family="Liberation Sans, Arial", size=82, color="#303030"))

fig.update_layout(
    width=2920, height=3800,
    margin=dict(l=0, r=0, t=0, b=0),
    paper_bgcolor="white", plot_bgcolor="#fffaf4",
    hovermode=False,
)

fig.write_html("out.html")
